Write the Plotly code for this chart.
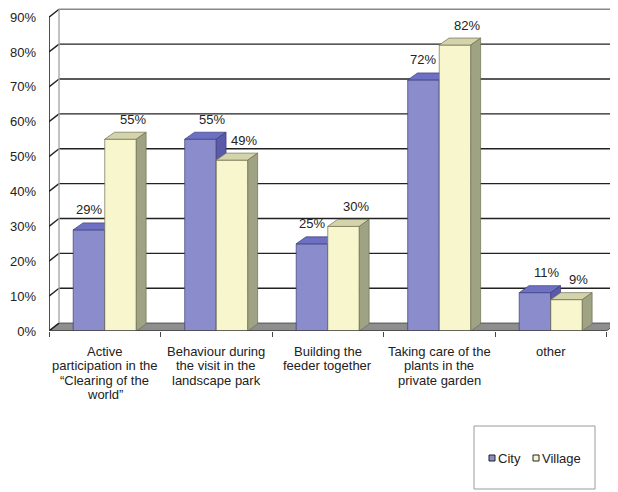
import plotly.graph_objects as go

# ---------------- data ----------------
categories = [
    "Active<br>participation in the<br>“Clearing of the<br>world”",
    "Behaviour during<br>the visit in the<br>landscape park",
    "Building the<br>feeder together",
    "Taking care of the<br>plants in the<br>private garden",
    "other",
]
city = [29, 55, 25, 72, 11]
village = [55, 49, 30, 82, 9]
y_ticks = [0, 10, 20, 30, 40, 50, 60, 70, 80, 90]
y_tick_labels = [f"{v}%" for v in y_ticks]
series_names = ["City", "Village"]

# ---------------- style ----------------
FONT = "Arial, Liberation Sans, sans-serif"
OFF = 8                      # page body margin of the viewer
W, H = 618 - OFF, 492 - OFF
ML, MR, MT = 49 - OFF, 0, 0
BOTTOM = 331 - OFF           # pixel row of the 0% front edge
MB = H - BOTTOM
PW, PH = W - ML - MR, H - MT - MB
DX, DY = 0.09, 2.27          # wall depth (data units)
BDX, BDY = 0.088, 2.0        # bar depth
BW = 0.283                   # bar width
X0, X1 = -0.5, -0.5 + PW / 111.5
Y0, Y1 = 0, 90 + DY + 0.35

city_col = dict(front="#8A8CCC", top="#6E70C4", side="#5A5AA8", line="#3C3C78")
vil_col = dict(front="#F8F6CC", top="#D4D4AC", side="#A0A284", line="#6E6E50")
TXT = "#222222"

xs = list(range(len(categories)))
fig = go.Figure()


def faces(values, offset):
    tx, ty, sx, sy = [], [], [], []
    for i, v in zip(xs, values):
        a, b = i + offset, i + offset + BW
        tx += [a, b, b + BDX, a + BDX, a, None]
        ty += [v, v, v + BDY, v + BDY, v, None]
        sx += [b, b + BDX, b + BDX, b, b, None]
        sy += [0, BDY, v + BDY, v, 0, None]
    return tx, ty, sx, sy


for name, vals, off, col, xa, ya in [
    (series_names[0], city, -BW, city_col, "x", "y"),
    (series_names[1], village, 0.0, vil_col, "x2", "y2"),
]:
    fig.add_trace(go.Bar(
        x=xs, y=vals, name=name, width=BW, offset=off,
        marker=dict(color=col["front"], line=dict(color=col["line"], width=0.7)),
        xaxis=xa, yaxis=ya, showlegend=False, hoverinfo="skip",
    ))
    tx, ty, sx, sy = faces(vals, off)
    fig.add_trace(go.Scatter(x=tx, y=ty, mode="lines", fill="toself",
                             fillcolor=col["top"], line=dict(color=col["line"], width=0.7),
                             xaxis=xa, yaxis=ya, showlegend=False, hoverinfo="skip"))
    fig.add_trace(go.Scatter(x=sx, y=sy, mode="lines", fill="toself",
                             fillcolor=col["side"], line=dict(color=col["line"], width=0.7),
                             xaxis=xa, yaxis=ya, showlegend=False, hoverinfo="skip"))

# ---------------- walls / floor / grid ----------------
shapes = []
ax_col = "#222222"
shapes.append(dict(type="path", xref="x", yref="y", layer="below",
                   path=f"M{X0},0 L4.5,0 L{4.5 + DX},{DY} L{X0 + DX},{DY} Z",
                   fillcolor="#8E8E8E", line=dict(color="#555555", width=1)))
for v in y_ticks:
    if 0 < v < 90:
        shapes.append(dict(type="line", xref="x", yref="y", layer="below",
                           x0=X0 + DX, x1=4.5 + DX, y0=v + DY, y1=v + DY,
                           line=dict(color=ax_col, width=1.4)))
    shapes.append(dict(type="line", xref="x", yref="y", layer="below",
                       x0=X0, x1=X0 + DX, y0=v, y1=v + DY,
                       line=dict(color=ax_col, width=1.4)))
shapes.append(dict(type="line", xref="x", yref="y", layer="below",
                   x0=X0 + DX, x1=4.5 + DX, y0=90 + DY, y1=90 + DY,
                   line=dict(color="#888888", width=1.4)))
shapes.append(dict(type="line", xref="x", yref="y", layer="below",
                   x0=X0 + DX, x1=X0 + DX, y0=DY, y1=90 + DY,
                   line=dict(color="#A8A8A8", width=1.4)))
shapes.append(dict(type="line", xref="x", yref="y", layer="below",
                   x0=4.5 + DX, x1=4.5 + DX, y0=DY, y1=90 + DY,
                   line=dict(color="#888888", width=1.4)))
shapes.append(dict(type="line", xref="x", yref="y", layer="below",
                   x0=X0, x1=X0, y0=0, y1=90,
                   line=dict(color=ax_col, width=1.6)))
shapes.append(dict(type="line", xref="x", yref="y",
                   x0=X0, x1=4.5, y0=0, y1=0,
                   line=dict(color="#444444", width=1.4)))


# ---------------- helpers for page pixels ----------------
def px_x(p):
    return (p - OFF - ML) / PW


def px_y(p):
    return (BOTTOM - (p - OFF)) / PH


annotations = []

# ---------------- category labels (line by line, tight spacing) ----------------
for i, cat in zip(xs, categories):
    for k, line in enumerate(cat.split("<br>")):
        annotations.append(dict(x=i, y=0, xref="x", yref="y", text=line, showarrow=False,
                                xanchor="center", yanchor="middle",
                                yshift=-(20 + 14.5 * k),
                                font=dict(family=FONT, size=13, color=TXT)))

# ---------------- manual legend ----------------
shapes.append(dict(type="rect", xref="paper", yref="paper",
                   x0=px_x(474), x1=px_x(595), y0=px_y(489), y1=px_y(426),
                   line=dict(color="#9a9a9a", width=1), fillcolor="white"))
for name, col, sx0, tx0 in [(series_names[0], city_col, 489, 496),
                            (series_names[1], vil_col, 533, 540)]:
    shapes.append(dict(type="rect", xref="paper", yref="paper",
                       x0=px_x(sx0), x1=px_x(sx0 + 6), y0=px_y(461), y1=px_y(455),
                       fillcolor=col["front"], line=dict(color="#222222", width=1)))
    annotations.append(dict(xref="paper", yref="paper", x=px_x(tx0), y=px_y(458),
                            text=name, showarrow=False, xanchor="left", yanchor="middle",
                            font=dict(family=FONT, size=13, color=TXT)))

# ---------------- data labels ----------------
for i, c, v in zip(xs, city, village):
    cx = i - BW / 2 + (0.1 if c >= v else 0.0)
    annotations.append(dict(x=cx, y=c, xref="x", yref="y", text=f"{c}%", showarrow=False,
                            yanchor="middle", yshift=20,
                            font=dict(family=FONT, size=13, color=TXT)))
    vx = i + BW / 2 + 0.11
    annotations.append(dict(x=vx, y=v, xref="x", yref="y", text=f"{v}%", showarrow=False,
                            yanchor="middle", yshift=20,
                            font=dict(family=FONT, size=13, color=TXT)))

fig.update_layout(
    width=W, height=H,
    margin=dict(l=ML, r=MR, t=MT, b=MB, autoexpand=False),
    paper_bgcolor="white", plot_bgcolor="white",
    showlegend=False,
    font=dict(family=FONT, size=13, color=TXT),
    shapes=shapes, annotations=annotations,
    xaxis=dict(range=[X0, X1], tickvals=xs, ticktext=[""] * len(xs), ticks="",
               showgrid=False, zeroline=False, showline=False,
               minor=dict(tickvals=[k - 0.5 for k in range(len(categories) + 1)],
                          ticks="outside", ticklen=5, tickcolor="#444444", tickwidth=1,
                          showgrid=False)),
    yaxis=dict(range=[Y0, Y1], tickvals=y_ticks, ticktext=y_tick_labels, ticks="",
               showgrid=False, zeroline=False, showline=False,
               ticklabelstandoff=12,
               tickfont=dict(family=FONT, size=13, color=TXT)),
    xaxis2=dict(range=[X0, X1], overlaying="x", visible=False),
    yaxis2=dict(range=[Y0, Y1], overlaying="y", visible=False),
)

fig.write_html("out.html")
